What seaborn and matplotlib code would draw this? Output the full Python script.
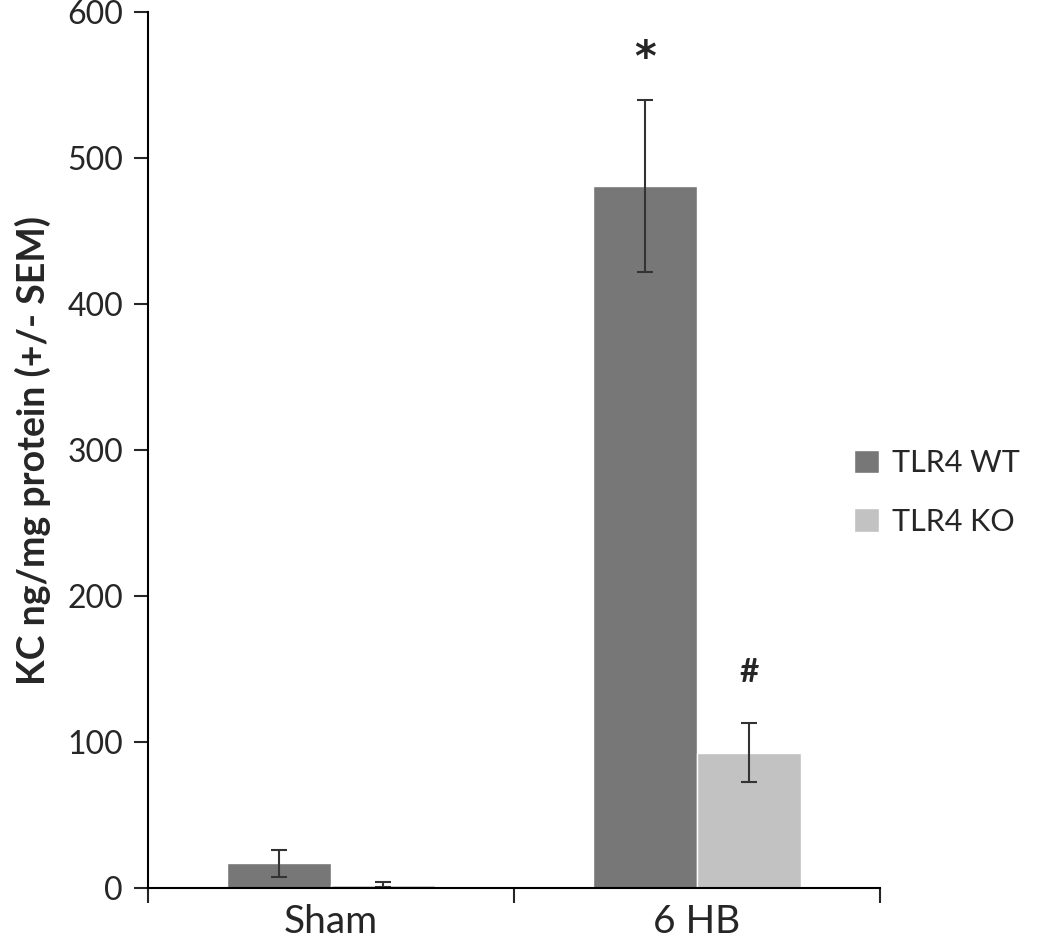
import pandas as pd
import matplotlib
matplotlib.use('Agg')
import matplotlib.pyplot as plt
import seaborn as sns

# values
groups = ['Sham', '6 HB']
genotypes = ['TLR4 WT', 'TLR4 KO']
wt_mean = [17, 481]
wt_sem = [9, 59]
ko_mean = [2.5, 93]
ko_sem = [1.5, 20]
marks = {('6 HB', 'TLR4 WT'): '*', ('6 HB', 'TLR4 KO'): '#'}

df = pd.DataFrame({
    'group': groups * 2,
    'genotype': [genotypes[0]] * 2 + [genotypes[1]] * 2,
    'kc': wt_mean + ko_mean,
    'sem': wt_sem + ko_sem,
})

sns.set_style('white')
plt.rcParams['font.family'] = ['Lato', 'DejaVu Sans']

fig = plt.figure(figsize=(10.5, 9.43), dpi=100)
ax = fig.add_axes([0.141, 0.058, 0.697, 0.929])

palette = {'TLR4 WT': '#777777', 'TLR4 KO': '#c2c2c2'}
sns.barplot(data=df, x='group', y='kc', hue='genotype', order=groups,
            hue_order=genotypes, palette=palette, errorbar=None,
            width=0.57, saturation=1, ax=ax)

# error bars + significance marks on each bar
for cont, g in zip(ax.containers, genotypes):
    sub = df[df['genotype'] == g].set_index('group').loc[groups]
    for patch, grp in zip(cont.patches, groups):
        cx = patch.get_x() + patch.get_width() / 2
        m = sub.loc[grp, 'kc']
        s = sub.loc[grp, 'sem']
        ax.errorbar(cx, m, yerr=s, fmt='none', ecolor='#333333',
                    elinewidth=1.5, capsize=6, capthick=1.5)
        if (grp, g) in marks:
            sym = marks[(grp, g)]
            if sym == '*':
                ax.text(cx, m + s + 28, sym, ha='center', va='center',
                        fontsize=30, fontweight='bold', family='DejaVu Sans')
            else:
                ax.text(cx, m + s + 35, sym, ha='center', va='center',
                        fontsize=24, fontweight='bold')

ax.set_ylim(0, 600)
ax.set_xlim(-0.5, 1.5)
ax.set_yticks(range(0, 601, 100))
ax.set_xticks([-0.5, 0.5, 1.5], minor=False)
ax.set_xticklabels(['', '', ''])
ax.set_xticks([0, 1], minor=True)
ax.set_xticklabels(groups, minor=True)
ax.tick_params(axis='x', which='minor', length=0, labelsize=28, pad=11)
ax.tick_params(axis='x', which='major', length=11, width=1.5, direction='out', bottom=True)
ax.tick_params(axis='y', length=10, width=1.5, direction='out', left=True, labelsize=23, pad=8)

for side in ['top', 'right']:
    ax.spines[side].set_visible(False)
for side in ['left', 'bottom']:
    ax.spines[side].set_linewidth(1.5)
    ax.spines[side].set_color('black')

ax.set_xlabel('')
ax.set_ylabel('KC ng/mg protein (+/- SEM)', fontsize=27, fontweight='bold', labelpad=12)

ax.legend(title=None, frameon=False, loc='center left', bbox_to_anchor=(0.965, 0.452),
          fontsize=22, handlelength=0.8, handleheight=0.8, labelspacing=1.0,
          handletextpad=0.45, borderpad=0, borderaxespad=0)

plt.savefig('out.png', dpi=100)
